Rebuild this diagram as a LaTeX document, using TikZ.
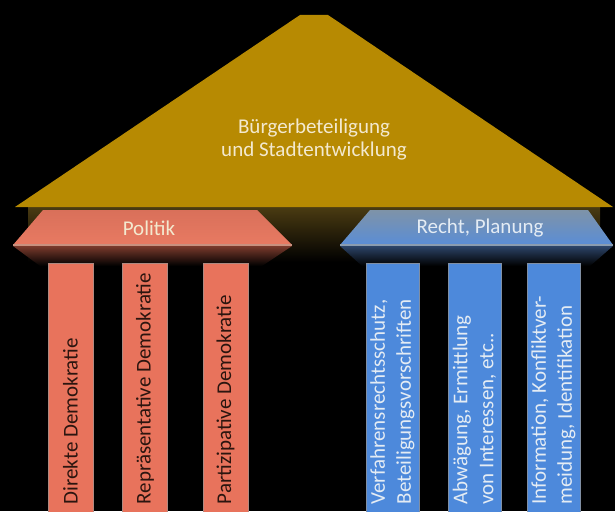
\documentclass[tikz,border=0pt]{standalone}
\usepackage{fontspec}
\setmainfont{Carlito}
\usetikzlibrary{positioning}
\definecolor{roofGold}{HTML}{B78A02}
\definecolor{roofShadow}{HTML}{4A3B12}
\definecolor{textCream}{HTML}{F3E9CF}
\definecolor{salmonTop}{HTML}{D9705A}
\definecolor{salmonBottom}{HTML}{E87A62}
\definecolor{salmonEdge}{HTML}{C9907E}
\definecolor{salmonDark}{HTML}{7A3A2C}
\definecolor{pillarRed}{HTML}{E8735C}
\definecolor{textDark}{HTML}{2B150F}
\definecolor{blueTop}{HTML}{7E93A8}
\definecolor{blueBottom}{HTML}{5A8DD6}
\definecolor{blueEdge}{HTML}{8A9CB0}
\definecolor{blueDark}{HTML}{2C4468}
\definecolor{pillarBlue}{HTML}{4D89DB}
\definecolor{textLightBlue}{HTML}{E4ECF4}
\tikzset{
  rooflabel/.style={font=\fontsize{21}{23}\selectfont, text=textCream, align=center},
  bandlabel/.style={font=\fontsize{21}{23}\selectfont, align=center},
  redpillar/.style={fill=pillarRed, draw=salmonDark!60, line width=0.6pt,
    minimum width=45pt, minimum height=250pt, anchor=north, inner sep=0pt},
  bluepillar/.style={fill=pillarBlue, draw=blueDark!60, line width=0.6pt,
    minimum width=53pt, minimum height=250pt, anchor=north, inner sep=0pt},
  pillartext/.style={rotate=90, anchor=west, inner sep=0pt,
    font=\fontsize{21}{26}\selectfont, align=left},
}
\begin{document}
\begin{tikzpicture}[x=1pt, y=-1pt]

  % === Background ===
  \fill[black] (0,0) rectangle (615,511);
  \useasboundingbox (0,0) rectangle (615,511);

  % === Shadow under the roof ===
  \shade[top color=roofShadow, bottom color=black] (28,207) rectangle (600,262);

  % === Roof ===
  \fill[roofGold] (300,15) -- (328,15) -- (613,207) -- (15,207) -- cycle;
  \node[rooflabel] (roof) at (314,140) {Bürgerbeteiligung\\und Stadtentwicklung};

  % === Left entablature: Politik ===
  \shade[top color=salmonDark, bottom color=black] (13,246) -- (292,246) -- (262,266) -- (40,266) -- cycle;
  \shade[top color=salmonTop, bottom color=salmonBottom] (43,210) -- (257,210) -- (292,245) -- (13,245) -- cycle;
  \draw[salmonEdge, line width=2pt] (13,245) -- (292,245);
  \node[bandlabel, text=textCream] (politik) at (149,228) {Politik};

  % === Right entablature: Recht, Planung ===
  \shade[top color=blueDark, bottom color=black] (340,246) -- (613,246) -- (590,266) -- (362,266) -- cycle;
  \shade[top color=blueTop, bottom color=blueBottom] (370,210) -- (588,210) -- (613,245) -- (340,245) -- cycle;
  \draw[blueEdge, line width=2pt] (340,245) -- (613,245);
  \node[bandlabel, text=textLightBlue] (recht) at (480,228) {Recht, Planung};

  % === Pillars left ===
  \node[redpillar] (direkt) at (70.5,263) {};
  \node[redpillar] (repr) at (145,263) {};
  \node[redpillar] (partiz) at (225.5,263) {};
  \node[pillartext, text=textDark] at ([yshift=9pt]direkt.south) {Direkte Demokratie};
  \node[pillartext, text=textDark] at ([yshift=9pt]repr.south) {Repräsentative Demokratie};
  \node[pillartext, text=textDark] at ([yshift=9pt]partiz.south) {Partizipative Demokratie};

  % === Pillars right ===
  \node[bluepillar] (verf) at (392.5,263) {};
  \node[bluepillar] (abw) at (474.5,263) {};
  \node[bluepillar] (info) at (553.5,263) {};
  \node[pillartext, text=textLightBlue] at ([yshift=9pt]verf.south) {Verfahrensrechtsschutz,\\Beteiligungsvorschriften};
  \node[pillartext, text=textLightBlue] at ([yshift=9pt]abw.south) {Abwägung, Ermittlung\\von Interessen, etc..};
  \node[pillartext, text=textLightBlue] at ([yshift=9pt]info.south) {Information, Konfliktver-\\meidung, Identifikation};

\end{tikzpicture}
\end{document}
